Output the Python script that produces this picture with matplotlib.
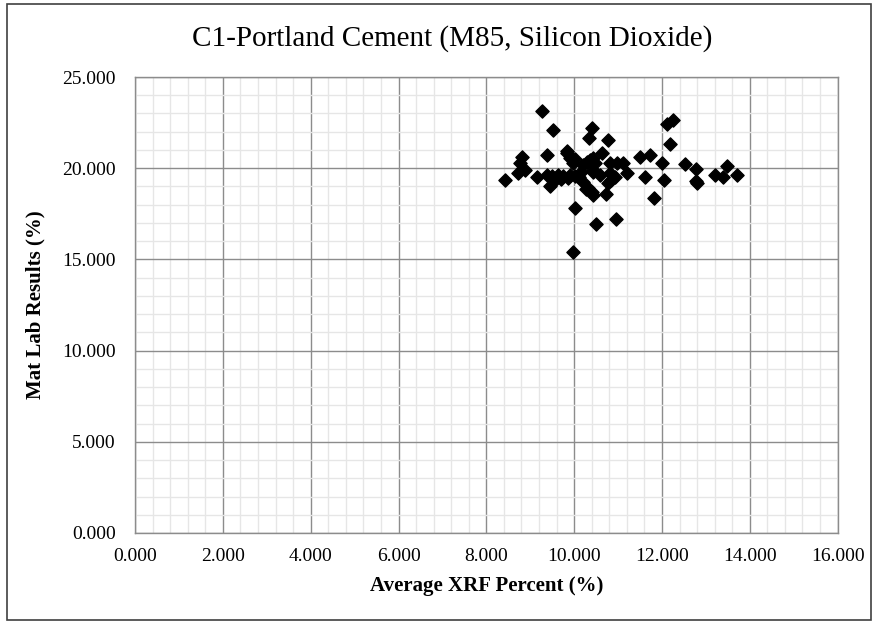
import matplotlib
matplotlib.use("Agg")
import matplotlib.pyplot as plt
from matplotlib.ticker import MultipleLocator, FormatStrFormatter
from matplotlib.patches import Rectangle

plt.rcParams['font.family'] = ['Liberation Serif', 'DejaVu Serif']

# data
xrf_pct = [9.26, 9.51, 10.40, 10.33, 10.76, 9.38, 9.84, 8.81, 8.77, 8.88,
           8.73, 8.43, 9.15, 9.38, 9.49, 9.45, 9.64, 9.75, 9.91, 10.02,
           9.57, 9.70, 9.85, 9.83, 9.91, 9.98, 10.02, 10.20, 10.30, 10.36,
           10.48, 10.63, 10.44, 10.20, 10.10, 10.15, 10.32, 10.41, 10.28, 10.44,
           10.43, 10.82, 10.97, 11.12, 10.82, 10.93, 11.20, 10.78, 10.72, 10.44,
           10.02, 10.49, 10.96, 9.98, 11.50, 11.73, 11.62, 11.99, 12.24, 12.12,
           12.18, 12.52, 12.77, 12.05, 12.77, 12.79, 13.21, 13.40, 13.49, 13.72,
           11.82, 10.60, 10.85]
matlab_pct = [23.14, 22.12, 22.18, 21.63, 21.54, 20.73, 20.95, 20.63, 20.30, 19.92,
              19.73, 19.38, 19.53, 19.62, 19.55, 19.02, 19.60, 19.55, 19.62, 19.55,
              19.35, 19.40, 19.45, 20.82, 20.56, 20.28, 20.49, 20.20, 20.35, 20.45,
              20.28, 20.82, 20.55, 19.26, 19.50, 19.80, 18.90, 18.70, 18.85, 19.81,
              19.90, 20.27, 20.27, 20.27, 19.73, 19.52, 19.72, 19.19, 18.61, 18.52,
              17.84, 16.93, 17.24, 15.43, 20.63, 20.72, 19.53, 20.31, 22.65, 22.43,
              21.35, 20.24, 19.95, 19.36, 19.31, 19.21, 19.62, 19.52, 20.13, 19.62,
              18.34, 19.60, 19.35]

fig = plt.figure(figsize=(8.78, 6.22), dpi=100)
ax = fig.add_axes([0.1538, 0.1431, 0.8002, 0.7331])

# outer chart border
fig.patches.append(Rectangle((0.008, 0.003), 0.984, 0.99, transform=fig.transFigure,
                             fill=False, edgecolor='#404040', linewidth=1.2))

ax.scatter(xrf_pct, matlab_pct, marker='D', s=45, color='black', zorder=3)

ax.set_xlim(0, 16)
ax.set_ylim(0, 25)
ax.xaxis.set_major_locator(MultipleLocator(2))
ax.xaxis.set_minor_locator(MultipleLocator(0.4))
ax.yaxis.set_major_locator(MultipleLocator(5))
ax.yaxis.set_minor_locator(MultipleLocator(1))
ax.xaxis.set_major_formatter(FormatStrFormatter('%.3f'))
ax.yaxis.set_major_formatter(FormatStrFormatter('%.3f'))

ax.grid(which='major', color='#8c8c8c', linewidth=1.0, zorder=1)
ax.grid(which='minor', color='#e6e6e6', linewidth=1.0, zorder=0)
ax.set_axisbelow(True)
ax.tick_params(which='both', length=0, labelsize=14)
ax.tick_params(axis='y', pad=14)
ax.tick_params(axis='x', pad=11)
for side in ['top', 'right', 'bottom', 'left']:
    ax.spines[side].set_color('#8c8c8c')
    ax.spines[side].set_linewidth(1.0)

fig.text(0.515, 1 - 46 / 622, 'C1-Portland Cement (M85, Silicon Dioxide)',
         fontsize=21, ha='center', va='baseline')
ax.set_xlabel('Average XRF Percent (%)', fontsize=15, fontweight='bold', labelpad=8)
ax.set_ylabel('Mat Lab Results (%)', fontsize=15, fontweight='bold', labelpad=12)

fig.savefig('out.png', dpi=100)
